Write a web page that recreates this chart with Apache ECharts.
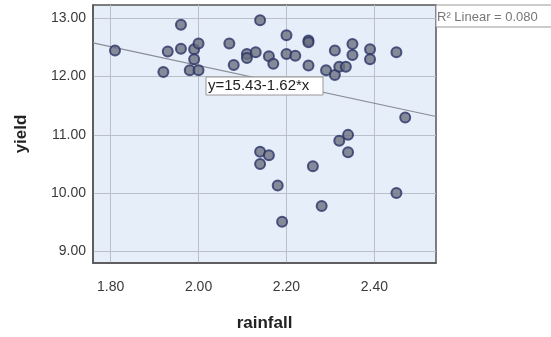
<!DOCTYPE html>
<html>
<head>
    <meta charset="utf-8">
    <title>yield vs rainfall</title>
    <script src="https://cdn.jsdelivr.net/npm/echarts@6.0.0/dist/echarts.min.js"></script>
    <style>
        html, body { margin: 0; padding: 0; background: #fff; }
        #chart { width: 551px; height: 337px; }
    </style>
</head>
<body>
<div id="chart"></div>
<script>
    // values
    var rainfall = [1.81, 1.92, 1.93, 1.96, 1.96, 1.98, 1.99, 1.99, 2.00, 2.00,
        2.07, 2.08, 2.11, 2.11, 2.13, 2.14, 2.16, 2.17, 2.20, 2.20,
        2.22, 2.25, 2.25, 2.25, 2.29, 2.31, 2.31, 2.32, 2.335, 2.35,
        2.35, 2.39, 2.39, 2.45, 2.47, 2.34, 2.32, 2.34, 2.14, 2.16,
        2.14, 2.18, 2.19, 2.26, 2.28, 2.45];
    var yieldVals = [12.45, 12.08, 12.43, 12.89, 12.48, 12.11, 12.47, 12.30, 12.57, 12.11,
        12.57, 12.20, 12.39, 12.32, 12.42, 12.97, 12.35, 12.22, 12.71, 12.39,
        12.36, 12.62, 12.59, 12.19, 12.11, 12.45, 12.03, 12.17, 12.17, 12.56,
        12.37, 12.47, 12.30, 12.42, 11.30, 11.00, 10.90, 10.70, 10.71, 10.65,
        10.50, 10.13, 9.51, 10.46, 9.78, 10.00];

    var xTicks = [1.8, 2.0, 2.2, 2.4];
    var yTicks = [9, 10, 11, 12, 13];
    var fitIntercept = 15.43;
    var fitSlope = -1.62;
    var fitLabel = 'y=15.43-1.62*x';
    var r2Label = 'R\u00b2 Linear = 0.080';

    var xMin = 1.76, xMax = 2.54;
    var yMin = 8.8, yMax = 13.23;

    var points = rainfall.map(function (r, i) { return [r, yieldVals[i]]; });
    var fitLine = [xMin, xMax].map(function (x) { return [x, fitIntercept + fitSlope * x]; });

    var chart = echarts.init(document.getElementById('chart'));

    var axisText = { color: '#3a3a3a', fontSize: 14, fontFamily: 'Liberation Sans, Arial, sans-serif' };
    var nameText = { color: '#222', fontSize: 17, fontWeight: 'bold', fontFamily: 'Liberation Sans, Arial, sans-serif' };

    chart.setOption({
        animation: false,
        grid: {
            left: 93, top: 5, right: 115, bottom: 66,
            show: true,
            backgroundColor: '#e6eefa',
            borderColor: '#555',
            borderWidth: 1.5
        },
        xAxis: {
            type: 'value',
            min: xMin,
            max: xMax,
            name: 'rainfall',
            nameLocation: 'middle',
            nameGap: 52,
            nameTextStyle: nameText,
            axisLine: { show: true, lineStyle: { color: '#555', width: 1.5 } },
            axisTick: { show: false, customValues: xTicks },
            axisLabel: Object.assign({
                customValues: xTicks,
                margin: 17,
                formatter: function (v) { return v.toFixed(2); }
            }, axisText),
            splitLine: { show: true, lineStyle: { color: '#b9c0ca', width: 1 } }
        },
        yAxis: {
            type: 'value',
            min: yMin,
            max: yMax,
            name: 'yield',
            nameLocation: 'middle',
            nameGap: 63,
            nameTextStyle: nameText,
            axisLine: { show: true, lineStyle: { color: '#555', width: 1.5 } },
            axisTick: { show: false, customValues: yTicks },
            axisLabel: Object.assign({
                customValues: yTicks,
                margin: 7,
                formatter: function (v) { return v.toFixed(2); }
            }, axisText),
            splitLine: { show: true, lineStyle: { color: '#b9c0ca', width: 1 } }
        },
        series: [{
            type: 'line',
            data: fitLine,
            symbol: 'none',
            silent: true,
            lineStyle: { color: '#8a8d94', width: 1.2 },
            z: 2
        }, {
            type: 'scatter',
            data: points,
            symbolSize: 10,
            itemStyle: {
                color: '#6c7080',
                borderColor: '#2b3466',
                borderWidth: 2
            },
            z: 3
        }],
        graphic: [{
            type: 'rect',
            shape: { x: 206, y: 77, width: 117, height: 18 },
            style: { fill: '#fff', stroke: '#999', lineWidth: 1 },
            z: 10
        }, {
            type: 'text',
            x: 208, y: 86,
            style: {
                text: fitLabel,
                fill: '#222',
                verticalAlign: 'middle',
                font: '15px Liberation Sans, Arial, sans-serif'
            },
            z: 11
        }, {
            type: 'rect',
            shape: { x: 436, y: 5, width: 130, height: 22 },
            style: { fill: '#fff', stroke: '#999', lineWidth: 1 },
            z: 10
        }, {
            type: 'text',
            x: 437, y: 17,
            style: {
                text: r2Label,
                fill: '#777',
                verticalAlign: 'middle',
                font: '13px Liberation Sans, Arial, sans-serif'
            },
            z: 11
        }]
    });
</script>
</body>
</html>
